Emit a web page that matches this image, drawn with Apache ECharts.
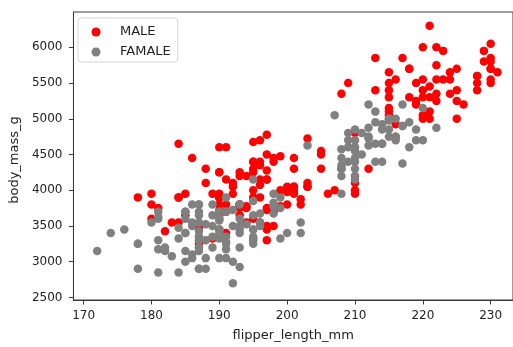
<!DOCTYPE html>
<html>
<head>
<meta charset="utf-8">
<script src="https://cdn.jsdelivr.net/npm/echarts@6/dist/echarts.min.js"></script>
<style>html,body{margin:0;padding:0;background:#fff;}#c{width:513px;height:347px;}</style>
</head>
<body>
<div id="c"></div>
<script>
var xTicks = [170, 180, 190, 200, 210, 220, 230];
var yTicks = [2500, 3000, 3500, 4000, 4500, 5000, 5500, 6000];
var legendNames = ['MALE', 'FAMALE'];

var maleFlipper = [181,190,195,191,198,197,194,180,185,180,183,180,178,184,196,190,184,195,196,190,182,191,188,200,191,193,194,195,192,192,188,198,190,197,195,184,195,196,193,194,190,189,205,186,208,196,192,203,190,184,190,197,191,197,196,199,189,198,202,199,195,210,197,199,190,200,193,187,190,185,190,193,201,
196,193,197,197,198,194,201,201,197,195,191,193,197,200,205,201,203,195,210,205,210,196,201,212,187,201,203,197,203,202,206,207,193,210,
230,218,215,219,215,216,213,217,221,222,218,215,215,215,220,222,230,220,219,208,225,216,222,225,215,220,225,220,220,224,221,231,230,229,223,221,221,230,220,223,221,224,228,218,230,228,224,226,216,225,228,228,215,219,209,229,230,230,222,222,213];
var maleMass = [3750,3650,4675,3800,4400,4500,4200,3600,3950,3800,3550,3950,3900,3900,4150,3950,4650,3900,4400,4600,3425,4150,4300,4050,3700,3800,3750,4400,4050,3950,4100,4450,3900,4150,4250,3900,4000,4700,4200,3550,3800,3950,4300,4450,4300,4350,4100,4725,4250,3550,3900,4775,4600,4275,4075,3775,3325,3500,3875,4000,4300,4000,3500,4475,3900,3975,4250,3475,3725,3650,4250,3750,4000,
3900,3650,3725,3750,3700,3775,4050,4050,3300,4400,3400,3800,4150,3800,4550,4300,4100,3600,4800,4500,3950,3550,4450,4300,3250,3950,4050,3450,4050,3800,3950,4000,3775,4100,
5700,5700,5400,5200,5150,5550,5850,5850,6300,5350,5700,5050,5100,5650,5550,5250,6050,5400,5250,5350,5700,4750,5550,5400,5300,5300,5000,5050,5000,5550,5300,5650,5700,5800,5550,5000,5100,5800,6000,5950,5450,5350,5600,5300,5550,5400,5650,5200,4925,5250,5600,5500,5500,5500,5500,5950,5500,5850,6000,5750,5400];

var femaleFlipper = [186,195,193,181,182,185,195,184,174,189,187,187,172,178,188,195,180,181,182,186,185,190,186,190,187,186,181,185,185,184,195,190,190,196,190,191,187,189,187,191,189,190,202,185,187,190,178,192,183,193,199,181,198,193,191,188,189,187,176,186,191,191,190,193,187,191,185,193,188,192,184,195,187,
192,188,198,178,195,193,185,190,181,190,181,187,195,200,191,187,187,199,195,192,187,196,196,190,198,199,193,187,191,194,189,195,202,198,
211,210,210,211,209,214,214,210,210,209,215,213,215,210,209,207,220,213,208,208,210,217,210,213,210,210,217,208,208,208,214,219,220,216,217,216,209,215,212,212,212,218,212,218,212,214,222,203,219,215,210,208,216,213,217,214,215,212];
var femaleMass = [3800,3250,3450,3625,3200,3700,3450,3325,3400,3800,3800,3200,3150,3250,3300,3325,3550,3300,3150,3100,3000,3450,3500,3450,2900,3550,2850,3150,3600,2850,3350,3050,3600,3550,3700,3700,3550,3200,3800,3350,3500,3600,3550,3400,3300,3700,2900,3725,3075,2925,3750,3175,3825,3200,3900,2900,3350,3150,3450,3050,3275,3050,3325,3500,3425,3175,3400,3400,3050,3000,3475,3450,3700,
3500,3525,3950,3250,4150,3800,3700,3575,3700,3450,3600,2900,3300,3400,3700,3200,3350,3900,3850,2700,3650,3500,3675,3400,3675,3325,3600,3350,3250,3525,3650,3650,3400,3775,
4500,4450,4550,4800,4400,4650,4650,4200,4150,4800,5000,4400,5000,4600,4700,5050,5150,4950,4350,3950,4300,4900,4200,5100,4850,4400,4900,4300,4450,4200,4400,4700,4700,4750,5200,4700,4600,4750,4625,4725,4750,4600,4875,4950,4750,4850,4875,4625,4850,4975,4700,4575,5000,4650,4375,4925,4850,5200];

function pairs(xs, ys) {
  var out = [];
  for (var i = 0; i < xs.length; i++) out.push([xs[i], ys[i]]);
  return out;
}
function plain(v) { return String(Math.round(v)); }

var FONT = 'DejaVu Sans';
var TXT = '#222';
var AX = '#3a3a3a';

var chart = echarts.init(document.getElementById('c'), null, {renderer: 'canvas'});
chart.setOption({
  animation: false,
  backgroundColor: '#fff',
  grid: {left: 71, top: 12, width: 443, height: 291, show: true, borderColor: AX, borderWidth: 1, backgroundColor: 'transparent'},
  legend: {
    data: legendNames,
    orient: 'vertical',
    left: 78, top: 18,
    icon: 'circle',
    itemWidth: 9, itemHeight: 14, itemGap: 6,
    padding: [7, 7, 3, 13.5],
    backgroundColor: 'rgba(255,255,255,0.85)',
    borderColor: '#d4d4d4', borderWidth: 1, borderRadius: 3,
    textStyle: {fontFamily: FONT, fontSize: 13, color: TXT, lineHeight: 14, padding: [0, 0, 0, 14.5]}
  },
  xAxis: {
    type: 'value', min: 168.5, max: 233.29,
    name: 'flipper_length_mm', nameLocation: 'middle', nameGap: 29,
    nameTextStyle: {fontFamily: FONT, fontSize: 13, color: TXT},
    axisLine: {show: true, lineStyle: {color: AX, width: 1}},
    axisTick: {show: true, customValues: xTicks, length: 4.5, lineStyle: {color: AX}},
    axisLabel: {customValues: xTicks, formatter: plain, fontFamily: FONT, fontSize: 12, color: TXT, margin: 10},
    splitLine: {show: false}
  },
  yAxis: {
    type: 'value', min: 2464, max: 6494,
    name: 'body_mass_g', nameLocation: 'middle', nameGap: 47,
    nameTextStyle: {fontFamily: FONT, fontSize: 13, color: TXT, padding: [0, 8, 0, 0]},
    axisLine: {show: true, lineStyle: {color: AX, width: 1}},
    axisTick: {show: true, customValues: yTicks, length: 4.5, lineStyle: {color: AX}},
    axisLabel: {customValues: yTicks, formatter: plain, fontFamily: FONT, fontSize: 12, color: TXT, margin: 11},
    splitLine: {show: false}
  },
  series: [
    {name: legendNames[0], type: 'scatter', symbol: 'circle', symbolSize: 8.5,
     itemStyle: {color: '#ff0000', opacity: 1}, data: pairs(maleFlipper, maleMass)},
    {name: legendNames[1], type: 'scatter', symbol: 'circle', symbolSize: 8.5,
     itemStyle: {color: '#808080', opacity: 1}, data: pairs(femaleFlipper, femaleMass)}
  ]
});
</script>
</body>
</html>
